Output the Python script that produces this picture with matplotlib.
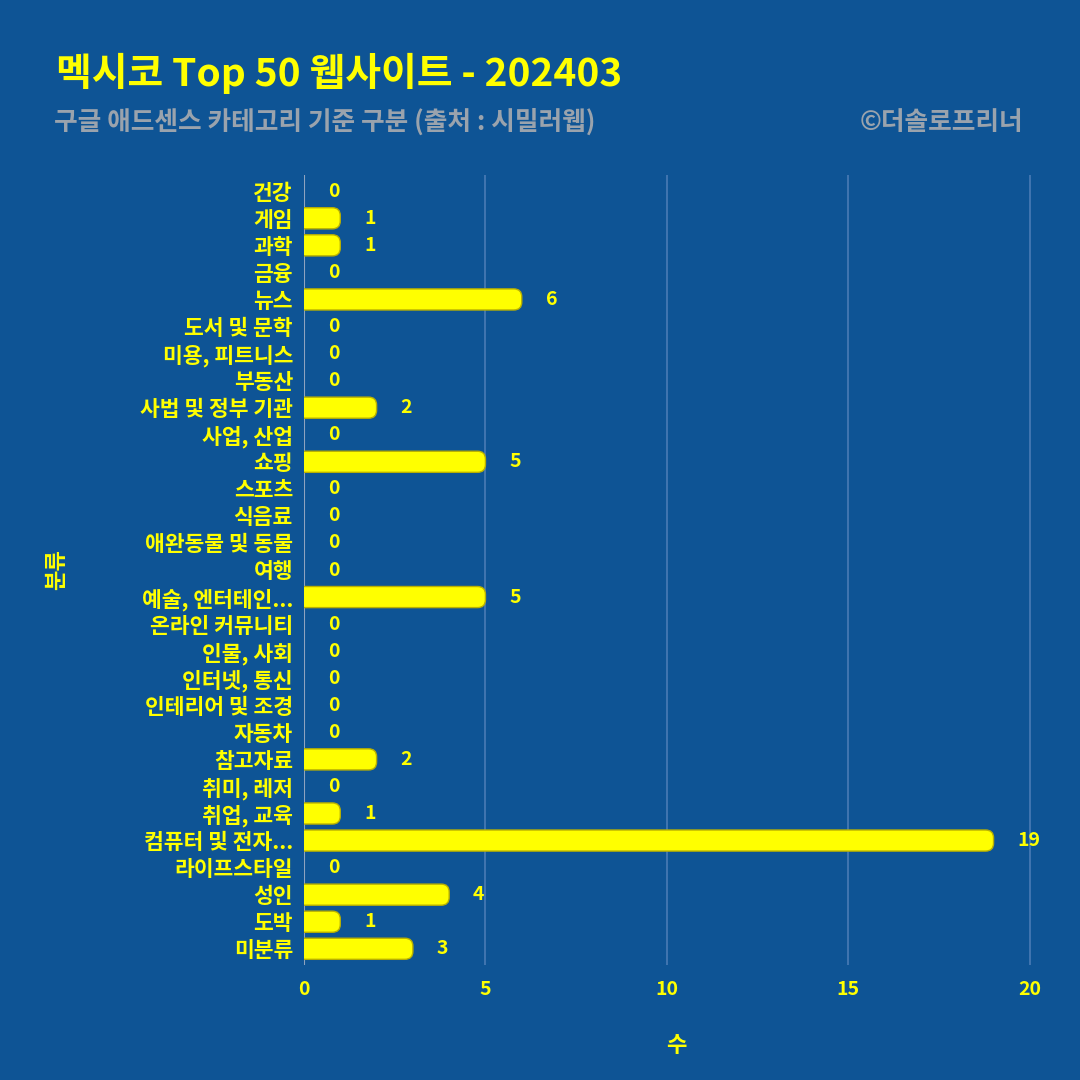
import matplotlib.pyplot as plt
from matplotlib.patches import FancyBboxPatch

plt.rcParams['font.family'] = ['Noto Sans CJK KR', 'DejaVu Sans']

categories = ['건강', '게임', '과학', '금융', '뉴스', '도서 및 문학', '미용, 피트니스', '부동산',
              '사법 및 정부 기관', '사업, 산업', '쇼핑', '스포츠', '식음료', '애완동물 및 동물',
              '여행', '예술, 엔터테인...', '온라인 커뮤니티', '인물, 사회', '인터넷, 통신',
              '인테리어 및 조경', '자동차', '참고자료', '취미, 레저', '취업, 교육',
              '컴퓨터 및 전자...', '라이프스타일', '성인', '도박', '미분류']
counts = [0, 1, 1, 0, 6, 0, 0, 0, 2, 0, 5, 0, 0, 0, 0, 5, 0, 0, 0, 0, 0, 2, 0, 1, 19, 0, 4, 1, 3]
xticks = [0, 5, 10, 15, 20]

bg = '#0e5495'
yellow = '#ffff00'

fig = plt.figure(figsize=(10.8, 10.8), dpi=100, facecolor=bg)
ax_l, ax_b, ax_w, ax_h = 304 / 1080, 115 / 1080, 744 / 1080, 790 / 1080
ax = fig.add_axes([ax_l, ax_b, ax_w, ax_h], facecolor=bg)

xmax = 20.5
ylo, yhi = -0.6, len(categories) - 1 + 0.6

pos = list(range(len(categories)))
bars = ax.barh(pos, counts, height=0.78, color='none', edgecolor='none')

# rounded bars (px per unit differ on x and y)
aspect = (744 / xmax) / (790 / (yhi - ylo))
for b, v in zip(bars, counts):
    if v == 0:
        continue
    x, y, w, h = b.get_x(), b.get_y(), b.get_width(), b.get_height()
    r = 0.22
    p = FancyBboxPatch((x - r, y), w + r, h, boxstyle=f'round,pad=0,rounding_size={r}',
                       mutation_aspect=aspect, facecolor=yellow, edgecolor='#b9b000',
                       linewidth=1.0, zorder=3)
    ax.add_patch(p)

for i, v in zip(pos, counts):
    ax.text(v + 0.66, i, str(v), color=yellow, fontsize=14, fontweight='bold',
            ha='left', va='center', zorder=4)

ax.set_xlim(0, xmax)
ax.set_ylim(yhi, ylo)
ax.set_yticks(pos)
ax.set_yticklabels(categories, color=yellow, fontsize=15.5, fontweight='bold')
ax.set_xticks(xticks)
ax.set_xticklabels([str(t) for t in xticks], color=yellow, fontsize=14, fontweight='bold')
ax.tick_params(axis='y', length=0, pad=8)
ax.tick_params(axis='x', length=0, pad=11)
ax.grid(axis='x', color='#4a7bb5', linewidth=1.2, zorder=0)
ax.axvline(0, color='#8ea3bf', linewidth=1.5, zorder=2)
for s in ax.spines.values():
    s.set_visible(False)

ax.set_xlabel('수', color=yellow, fontsize=16, fontweight='bold', labelpad=25)
ax.set_ylabel('분류', color=yellow, fontsize=16, fontweight='bold', labelpad=52)

fig.text(0.052, 0.932, '멕시코 Top 50 웹사이트 - 202403', color=yellow, fontsize=28,
         fontweight='bold', ha='left', va='center')
fig.text(0.050, 0.887, '구글 애드센스 카테고리 기준 구분 (출처 : 시밀러웹)', color='#9aa3ad',
         fontsize=18.5, fontweight='bold', ha='left', va='center')
fig.text(0.947, 0.887, '©더솔로프리너', color='#9aa3ad', fontsize=18.5, fontweight='bold',
         ha='right', va='center')

fig.savefig('out.png', dpi=100, facecolor=bg)
